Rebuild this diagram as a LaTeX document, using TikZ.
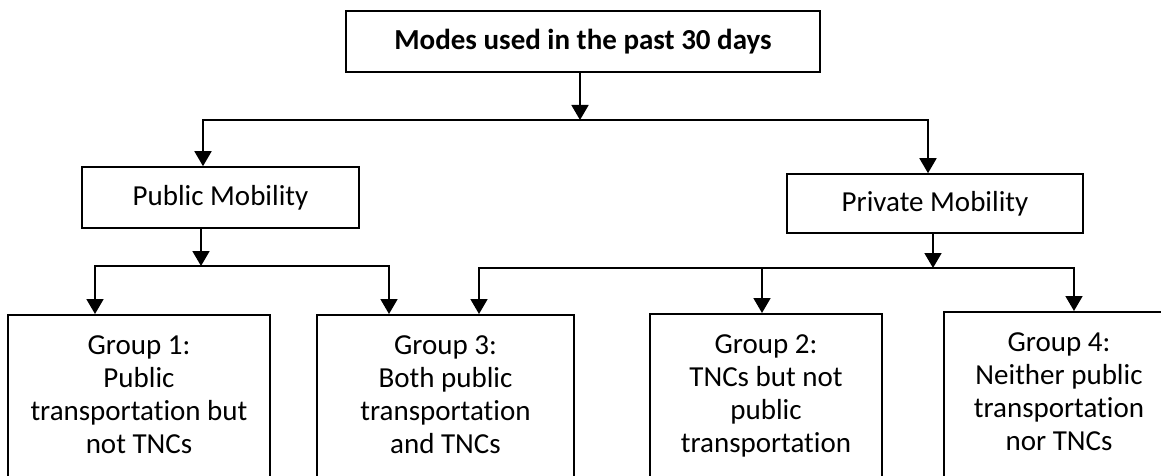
\documentclass[tikz,border=0pt]{standalone}
\usepackage{fontspec}
\setmainfont{Carlito}[Ligatures=NoCommon]
\usetikzlibrary{arrows.meta,calc}
\begin{document}
\begin{tikzpicture}[x=1pt,y=-1pt,
  every node/.style={font=\fontsize{29}{33}\selectfont},
  box/.style={draw, line width=1.6pt, inner sep=0pt},
  grp/.style={box, anchor=north, minimum height=200pt},
  arr/.style={line width=1.8pt, -{Triangle[width=17pt,length=15pt]}},
  gtext/.style={align=center, inner sep=0pt, anchor=north}]
\useasboundingbox[fill=white] (0,0) rectangle (1161,476);
\clip (0,0) rectangle (1161,476);

% top level and the two mobility classes
\node[box, minimum width=474pt, minimum height=61pt,
      font=\bfseries\fontsize{29}{33}\selectfont] (modes) at (583,41.5) {Modes used in the past 30 days};
\node[box, minimum width=277pt, minimum height=61pt] (pub) at (220.5,197.5) {Public Mobility};
\node[box, minimum width=296pt, minimum height=59pt] (priv) at (935,203.5) {Private Mobility};

% group boxes (open at the bottom edge)
\node[grp, minimum width=262pt] (g1) at (139,314) {};
\node[grp, minimum width=257pt] (g3) at (445.5,314) {};
\node[grp, minimum width=232pt] (g2) at (766,313) {};
\node[grp, minimum width=230pt] (g4) at (1059,311) {};

\node[gtext] (t1) at ([yshift=-18pt]g1.north) {\rule{0pt}{22pt}Group 1:\\Public\\transportation but\\not TNCs};
\node[gtext] (t3) at ([yshift=-18pt]g3.north) {\rule{0pt}{22pt}Group 3:\\Both public\\transportation\\and TNCs};
\node[gtext] (t2) at ([yshift=-18pt]g2.north) {\rule{0pt}{22pt}Group 2:\\TNCs but not\\public\\transportation};
\node[gtext] (t4) at ([yshift=-18pt]g4.north) {\rule{0pt}{22pt}Group 4:\\Neither public\\transportation\\nor TNCs};

% branching lines
\coordinate (b0M) at (580,120);
\coordinate (b0L) at (203,120);
\coordinate (b0R) at (928,120);
\coordinate (b1M) at (201,266);
\coordinate (b1L) at (95,266);
\coordinate (b1R) at (389,266);
\coordinate (b2M) at (933,268);
\coordinate (b2L) at (479,268);
\coordinate (b2C) at (762,268);
\coordinate (b2R) at (1074,268);

\draw[arr] (modes.south -| b0M) -- (b0M);
\draw[arr] (b0M) -| (pub.north -| b0L);
\draw[arr] (b0M) -| (priv.north -| b0R);

\draw[arr] (pub.south -| b1M) -- (b1M);
\draw[arr] (b1M) -| (g1.north -| b1L);
\draw[arr] (b1M) -| (g3.north -| b1R);

\draw[arr] (priv.south -| b2M) -- (b2M);
\draw[arr] (b2M) -| (g3.north -| b2L);
\draw[arr] (b2C) -- (g2.north -| b2C);
\draw[arr] (b2M) -| (g4.north -| b2R);
\end{tikzpicture}
\end{document}
